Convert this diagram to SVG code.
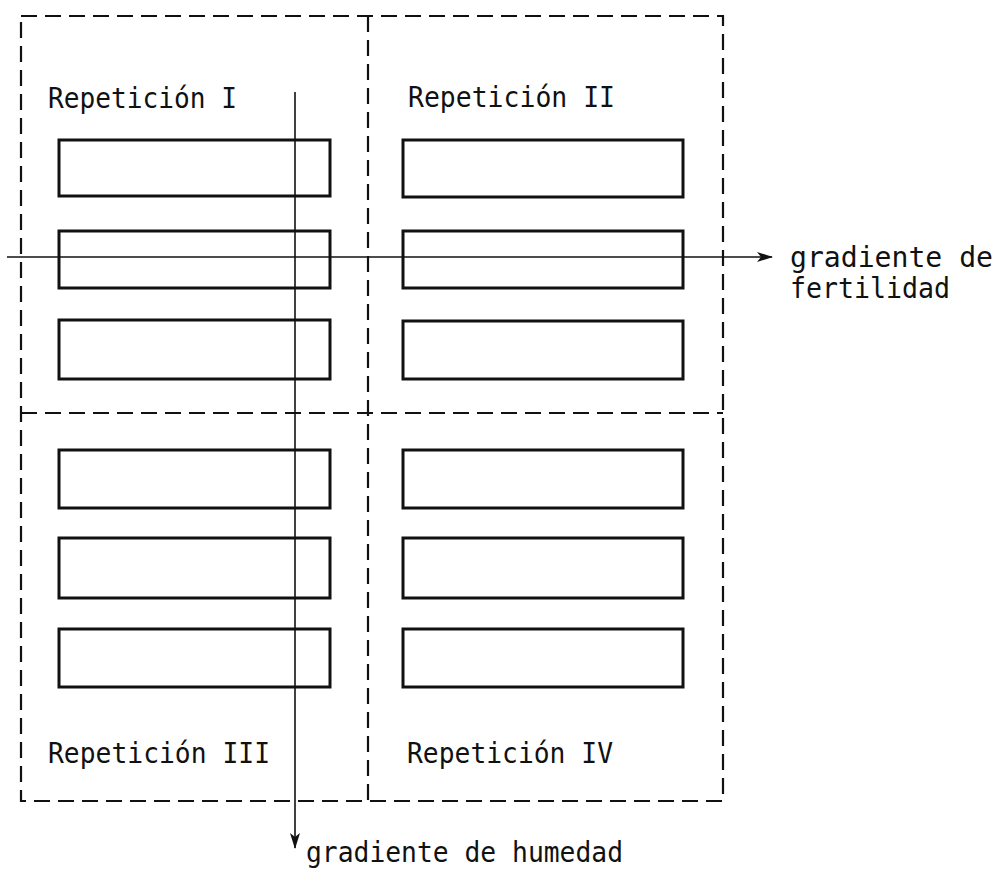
<svg xmlns="http://www.w3.org/2000/svg" width="998" height="869" viewBox="0 0 998 869">
<style>
.bg{fill:#ffffff}
.border{fill:none;stroke:#111;stroke-width:2.2;stroke-dasharray:16 8}
.plot{fill:#ffffff;stroke:#111;stroke-width:3}
.axis{fill:none;stroke:#111;stroke-width:1.6}
.lbl{font-family:"DejaVu Sans Mono","Liberation Mono",monospace;font-size:28px;fill:#111}
</style>
<defs>
<marker id="ah" viewBox="0 0 16 10" refX="15" refY="5" markerWidth="16" markerHeight="10" markerUnits="userSpaceOnUse" orient="auto">
<path d="M0,0 L16,5 L0,10 L4,5 Z" fill="#111"/>
</marker>
</defs>
<rect class="bg" x="0" y="0" width="998" height="869"/>
<g id="field">
<rect class="border" x="21" y="16" width="702" height="785"/>
<line class="border" x1="368" y1="16" x2="368" y2="801"/>
<line class="border" x1="21" y1="413" x2="723" y2="413"/>
</g>
<g id="rep1">
<text class="lbl" x="48" y="108" textLength="189" lengthAdjust="spacingAndGlyphs">Repetición I</text>
<rect class="plot" x="59" y="140" width="271" height="56"/>
<rect class="plot" x="59" y="231" width="271" height="57"/>
<rect class="plot" x="59" y="320" width="271" height="59"/>
</g>
<g id="rep2">
<text class="lbl" x="408" y="107" textLength="207" lengthAdjust="spacingAndGlyphs">Repetición II</text>
<rect class="plot" x="403" y="140" width="280" height="57"/>
<rect class="plot" x="403" y="231" width="280" height="57"/>
<rect class="plot" x="403" y="321" width="280" height="58"/>
</g>
<g id="rep3">
<rect class="plot" x="59" y="450" width="271" height="58"/>
<rect class="plot" x="59" y="538" width="271" height="60"/>
<rect class="plot" x="59" y="629" width="271" height="58"/>
<text class="lbl" x="48" y="763" textLength="222" lengthAdjust="spacingAndGlyphs">Repetición III</text>
</g>
<g id="rep4">
<rect class="plot" x="403" y="450" width="280" height="58"/>
<rect class="plot" x="403" y="538" width="280" height="60"/>
<rect class="plot" x="403" y="629" width="280" height="58"/>
<text class="lbl" x="407" y="763" textLength="206" lengthAdjust="spacingAndGlyphs">Repetición IV</text>
</g>
<g id="connectors">
<line class="axis" x1="7" y1="257" x2="772" y2="257" marker-end="url(#ah)"/>
<line class="axis" x1="295" y1="92" x2="295" y2="848" marker-end="url(#ah)"/>
</g>
<g id="fertility-label">
<text class="lbl" x="790" y="267" textLength="203" lengthAdjust="spacingAndGlyphs">gradiente de</text>
<text class="lbl" x="790" y="298" textLength="160" lengthAdjust="spacingAndGlyphs">fertilidad</text>
</g>
<g id="humidity-label">
<text class="lbl" x="306" y="862" textLength="317" lengthAdjust="spacingAndGlyphs">gradiente de humedad</text>
</g>
</svg>
